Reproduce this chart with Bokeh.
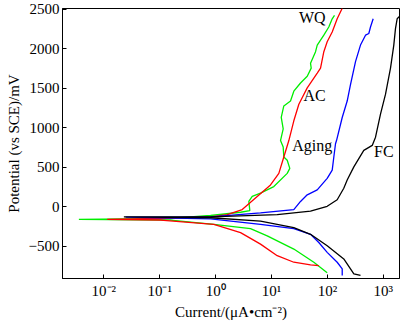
from bokeh.plotting import figure
from bokeh.models import FixedTicker, Range1d, Label
from bokeh.embed import file_html
from bokeh.resources import INLINE

# log10(current, uA/cm2) and potential (mV), scan order: cathodic end -> Ecorr -> anodic end
wq_logi = [1.996, 1.757, 1.399, 0.923, 0.624, -0.032, -0.807, -2.447,
           -0.807, -0.091, 0.446, 0.612, 0.594, 0.655, 0.803, 1.041, 1.281, 1.327, 1.281,
           1.220, 1.209, 1.161, 1.209, 1.174, 1.220, 1.340, 1.399, 1.519, 1.639, 1.710,
           1.698, 1.788, 1.818, 1.936, 2.025, 2.086, 2.127]
wq_e = [-837, -704, -537, -371, -279, -225, -171, -162,
        -150, -112, -71, -50, 66, 129, 171, 254, 421, 484, 587,
        629, 754, 837, 984, 1129, 1275, 1337, 1462, 1566, 1650, 1754,
        1816, 1962, 2046, 2171, 2275, 2379, 2421]

ac_logi = [1.846, 1.698, 1.399, 1.102, 0.803, 0.446, -0.032, -0.986, -1.94,
           -0.986, -0.091, 0.207, 0.476, 0.744, 0.982, 1.131, 1.220, 1.310, 1.399,
           1.489, 1.639, 1.818, 1.877, 1.936, 1.996, 2.086, 2.175, 2.265]
ac_e = [-746, -737, -704, -621, -475, -329, -225, -171, -162,
        -150, -129, -100, -37, 129, 275, 421, 629, 837, 1087,
        1296, 1504, 1691, 1754, 1962, 2087, 2212, 2379, 2512]

aging_logi = [2.265, 2.265, 2.175, 1.996, 1.846, 1.698, 1.399, 0.803, -0.091, -1.61,
              -0.091, 0.803, 1.399, 1.519, 1.639, 1.818, 1.996, 2.086, 2.115, 2.145,
              2.163, 2.265, 2.354, 2.413, 2.503, 2.592, 2.682, 2.741, 2.771, 2.819]
aging_e = [-871, -787, -704, -579, -454, -350, -279, -225, -154, -134,
           -129, -79, -37, 66, 150, 212, 358, 462, 629, 796,
           837, 1129, 1337, 1546, 1837, 2046, 2171, 2192, 2275, 2379]

fc_logi = [2.592, 2.473, 2.413, 2.293, 1.996, 1.698, 1.399, 0.803, -0.091, -1.642,
           -0.091, 1.102, 1.698, 1.996, 2.175, 2.293, 2.354, 2.473, 2.651, 2.802,
           2.861, 2.950, 3.039, 3.129, 3.188, 3.218, 3.248, 3.307]
fc_e = [-871, -850, -787, -662, -496, -350, -266, -184, -141, -129,
        -129, -100, -58, 4, 87, 233, 337, 504, 712, 775,
        879, 1171, 1421, 1754, 2046, 2254, 2379, 2421]

series_names = ["WQ", "AC", "Aging", "FC"]
series_colors = ["#00ee00", "#ff0000", "#0000ff", "#000000"]
label_logi = [1.728, 1.769, 1.728, 3.01]
label_e = [2398, 1412, 775, 704]

x_ticks = [0.01, 0.1, 1, 10, 100, 1000]
x_tick_labels = ["10⁻²", "10⁻¹", "10⁰", "10¹", "10²", "10³"]
y_ticks = [-500, 0, 500, 1000, 1500, 2000, 2500]
y_tick_labels = ["−500", "0", "500", "1000", "1500", "2000", "2500"]

FONT = "Liberation Serif"

p = figure(width=400, height=322, output_backend="svg", toolbar_location=None,
           x_axis_type="log", x_range=Range1d(10 ** -2.74, 10 ** 3.29),
           y_range=Range1d(-910, 2509),
           min_border_left=62, min_border_right=1, min_border_top=8, min_border_bottom=42)
p.background_fill_color = "white"
p.border_fill_color = "white"
p.outline_line_color = "black"
p.outline_line_width = 1
p.grid.visible = False

data = [(wq_logi, wq_e), (ac_logi, ac_e), (aging_logi, aging_e), (fc_logi, fc_e)]
for (li, e), c in zip(data, series_colors):
    p.line([10 ** v for v in li], e, line_color=c, line_width=1.3)

for name, lx, ly in zip(series_names, label_logi, label_e):
    p.add_layout(Label(x=10 ** lx, y=ly, text=name, text_font=FONT, text_font_size="16px",
                       text_align="center", text_baseline="middle", text_color="black"))

p.xaxis.ticker = FixedTicker(ticks=x_ticks)
p.xaxis.major_label_overrides = {t: s for t, s in zip(x_ticks, x_tick_labels)}
p.yaxis.ticker = FixedTicker(ticks=y_ticks)
p.yaxis.major_label_overrides = {t: s for t, s in zip(y_ticks, y_tick_labels)}

for ax in (p.xaxis, p.yaxis):
    ax.major_tick_in = 4
    ax.major_tick_out = 0
    ax.minor_tick_line_color = None
    ax.axis_line_color = "black"
    ax.major_tick_line_color = "black"
    ax.major_label_text_font = FONT
    ax.major_label_text_font_size = "15px"
    ax.major_label_text_color = "black"
    ax.axis_label_text_font = FONT
    ax.axis_label_text_font_size = "15px"
    ax.axis_label_text_font_style = "normal"
    ax.axis_label_text_color = "black"

p.xaxis.axis_label = "Current/(μA•cm⁻²)"
p.yaxis.axis_label = "Potential (vs SCE)/mV"
p.xaxis.major_label_standoff = 4
p.xaxis.axis_label_standoff = 2
p.yaxis.major_label_standoff = 3
p.yaxis.axis_label_standoff = 4

open("out.html", "w").write(file_html(p, INLINE))
